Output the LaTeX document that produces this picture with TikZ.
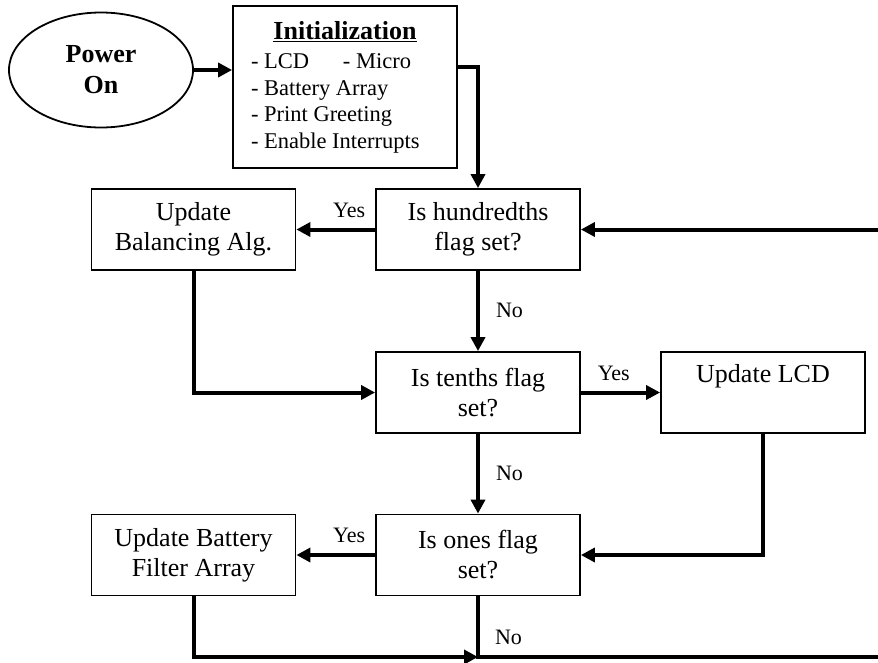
\documentclass[tikz,border=0pt]{standalone}
\usepackage{fontspec}
\setmainfont{Liberation Serif}
\usetikzlibrary{arrows.meta,shapes.geometric}
\begin{document}
\begin{tikzpicture}[x=1pt,y=-1pt,
  box/.style={draw, line width=1.8pt, minimum width=204pt, minimum height=81pt,
    inner sep=0pt, align=center, font=\fontsize{26}{30}\selectfont},
  flow/.style={line width=4pt, -{Triangle[length=14pt,width=14pt]}},
  wire/.style={line width=4pt},
  tag/.style={font=\fontsize{22}{26}\selectfont, inner sep=0pt},
]
\useasboundingbox (0,0) rectangle (878,662);

% start
\node[draw, ellipse, line width=1.8pt, minimum width=184pt, minimum height=115pt,
      inner sep=0pt, align=center, font=\fontsize{26}{31}\selectfont\bfseries]
      (power) at (101,70) {Power\\On};

% initialization block
\node[draw, line width=1.8pt, minimum width=224pt, minimum height=162pt, inner sep=0pt]
  (init) at (345,87) {\parbox{188pt}{%
    {\centering\fontsize{26}{30}\selectfont\bfseries\underline{Initialization}\par}
    \vspace{3pt}
    \fontsize{22.5}{26.5}\selectfont
    \makebox[92pt][l]{- LCD}- Micro\\
    - Battery Array\\
    - Print Greeting\\
    - Enable Interrupts}};

% decisions and actions
\node[box] (hund)   at (478,229.5) {Is hundredths\\flag set?};
\node[box] (bal)    at (193.5,229.5) {Update\\Balancing Alg.};
\node[box] (tenths) at (478,392.5) {Is tenths flag\\set?};
\node[box] (lcd)    at (763,392.5) {Update LCD\\\strut};
\node[box] (ones)   at (478,555) {Is ones flag\\set?};
\node[box] (batt)   at (193.5,555) {Update Battery\\Filter Array};

\coordinate (loopin) at (878,229.5);
\coordinate (join)   at (478,657);
\coordinate (loopout) at (878,657);

% connectors
\draw[flow] (power.east) -- (power.east -| init.west);
\draw[flow] ([yshift=20pt]init.east) -| (hund.north);
\draw[flow] (loopin) -- (hund.east);
\draw[flow] (hund.west) -- node[tag, pos=0.33, anchor=base, yshift=12pt] {Yes} (bal.east);
\draw[flow] (hund.south) -- node[tag, pos=0.585, anchor=base west, xshift=16pt] {No} (tenths.north);
\draw[flow] (bal.south) |- (tenths.west);
\draw[flow] (tenths.east) -- node[tag, pos=0.415, anchor=base, yshift=12pt] {Yes} (lcd.west);
\draw[flow] (tenths.south) -- node[tag, pos=0.585, anchor=base west, xshift=16pt] {No} (ones.north);
\draw[flow] (lcd.south) |- (ones.east);
\draw[flow] (ones.west) -- node[tag, pos=0.33, anchor=base, yshift=13pt] {Yes} (batt.east);
\draw[flow] (batt.south) |- (join);
\draw[wire] (ones.south) -- node[tag, pos=0.8, anchor=base west, xshift=15pt] {No} (join) -- (loopout);
\end{tikzpicture}
\end{document}
